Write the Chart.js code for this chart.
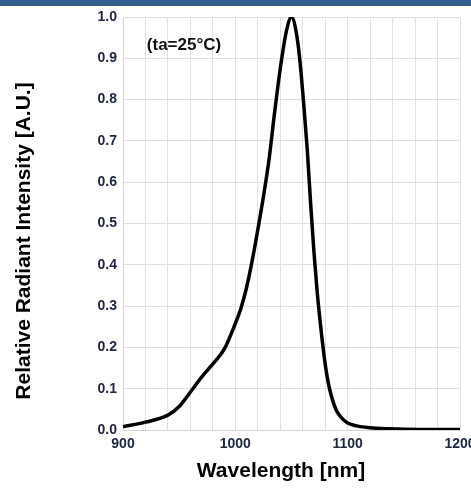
<!DOCTYPE html>
<html>
<head>
<meta charset="utf-8">
<script src="https://cdn.jsdelivr.net/npm/chart.js@4.4.1/dist/chart.umd.min.js"></script>
<style>
  html, body { margin: 0; padding: 0; background: #fff; overflow: hidden; }
  #wrap { position: relative; width: 471px; height: 488px; overflow: hidden; }
  #bar { position: absolute; left: 0; top: 0; width: 471px; height: 6px; background: #325d8e; z-index: 2; }
  canvas { position: absolute; left: 0; top: 0; }
</style>
</head>
<body>
<div id="wrap">
  <div id="bar"></div>
  <canvas id="chart" width="490" height="488"></canvas>
</div>
<script>
// spectrum
const wavelengths = [900, 920, 940, 950, 960, 970, 980, 990, 1000, 1005, 1010, 1015, 1020, 1025, 1030, 1035, 1040, 1045, 1050, 1055, 1058, 1061, 1064, 1067, 1070, 1073, 1076, 1079, 1082, 1085, 1090, 1095, 1100, 1108, 1126, 1150, 1200];
const intensity   = [0.008, 0.019, 0.036, 0.057, 0.092, 0.128, 0.160, 0.195, 0.258, 0.295, 0.345, 0.41, 0.485, 0.565, 0.655, 0.77, 0.875, 0.96, 1.0, 0.95, 0.88, 0.785, 0.68, 0.55, 0.43, 0.33, 0.25, 0.18, 0.125, 0.087, 0.047, 0.028, 0.017, 0.010, 0.004, 0.002, 0.001];
const xLabels = [900, 1000, 1100, 1200];

const tickColor = '#1c2541';
const gridColor = '#e0e0e0';

const titles = {
  id: 'titles',
  afterDraw(chart) {
    const ctx = chart.ctx;
    ctx.save();
    ctx.fillStyle = '#000';
    ctx.textAlign = 'center';
    ctx.textBaseline = 'middle';
    ctx.font = 'bold 21px "Liberation Sans", Arial, sans-serif';
    ctx.fillText('Wavelength [nm]', 281, 471);
    ctx.save();
    ctx.translate(24, 241);
    ctx.rotate(-Math.PI / 2);
    ctx.fillText('Relative Radiant Intensity [A.U.]', 0, 0);
    ctx.restore();
    ctx.font = 'bold 17px "Liberation Sans", Arial, sans-serif';
    ctx.fillStyle = '#111';
    ctx.fillText('(ta=25°C)', 184, 45);
    ctx.restore();
  }
};

new Chart(document.getElementById('chart'), {
  type: 'line',
  data: {
    datasets: [{
      data: wavelengths.map((w, i) => ({ x: w, y: intensity[i] })),
      borderColor: '#000',
      borderWidth: 3.5,
      pointRadius: 0,
      cubicInterpolationMode: 'monotone',
      fill: false
    }]
  },
  options: {
    responsive: false,
    animation: false,
    layout: { padding: { left: 0, top: 17, right: 30, bottom: 0 } },
    plugins: { legend: { display: false }, tooltip: { enabled: false } },
    scales: {
      x: {
        type: 'linear',
        min: 900,
        max: 1200,
        afterFit: s => { s.height = 58; },
        grid: { color: gridColor, drawTicks: false },
        border: { color: '#d4d4d4' },
        ticks: {
          stepSize: 20,
          autoSkip: false,
          maxRotation: 0,
          padding: 6,
          color: tickColor,
          font: { family: '"Liberation Sans", Arial', size: 14, weight: 'bold' },
          callback: v => xLabels.includes(v) ? String(v) : ''
        }
      },
      y: {
        min: 0,
        max: 1,
        afterFit: s => { s.width = 123; },
        grid: { color: gridColor, drawTicks: false },
        border: { color: '#d4d4d4' },
        ticks: {
          stepSize: 0.1,
          padding: 6,
          color: tickColor,
          font: { family: '"Liberation Sans", Arial', size: 14, weight: 'bold' },
          callback: v => v.toFixed(1)
        }
      }
    }
  },
  plugins: [titles]
});
</script>
</body>
</html>
